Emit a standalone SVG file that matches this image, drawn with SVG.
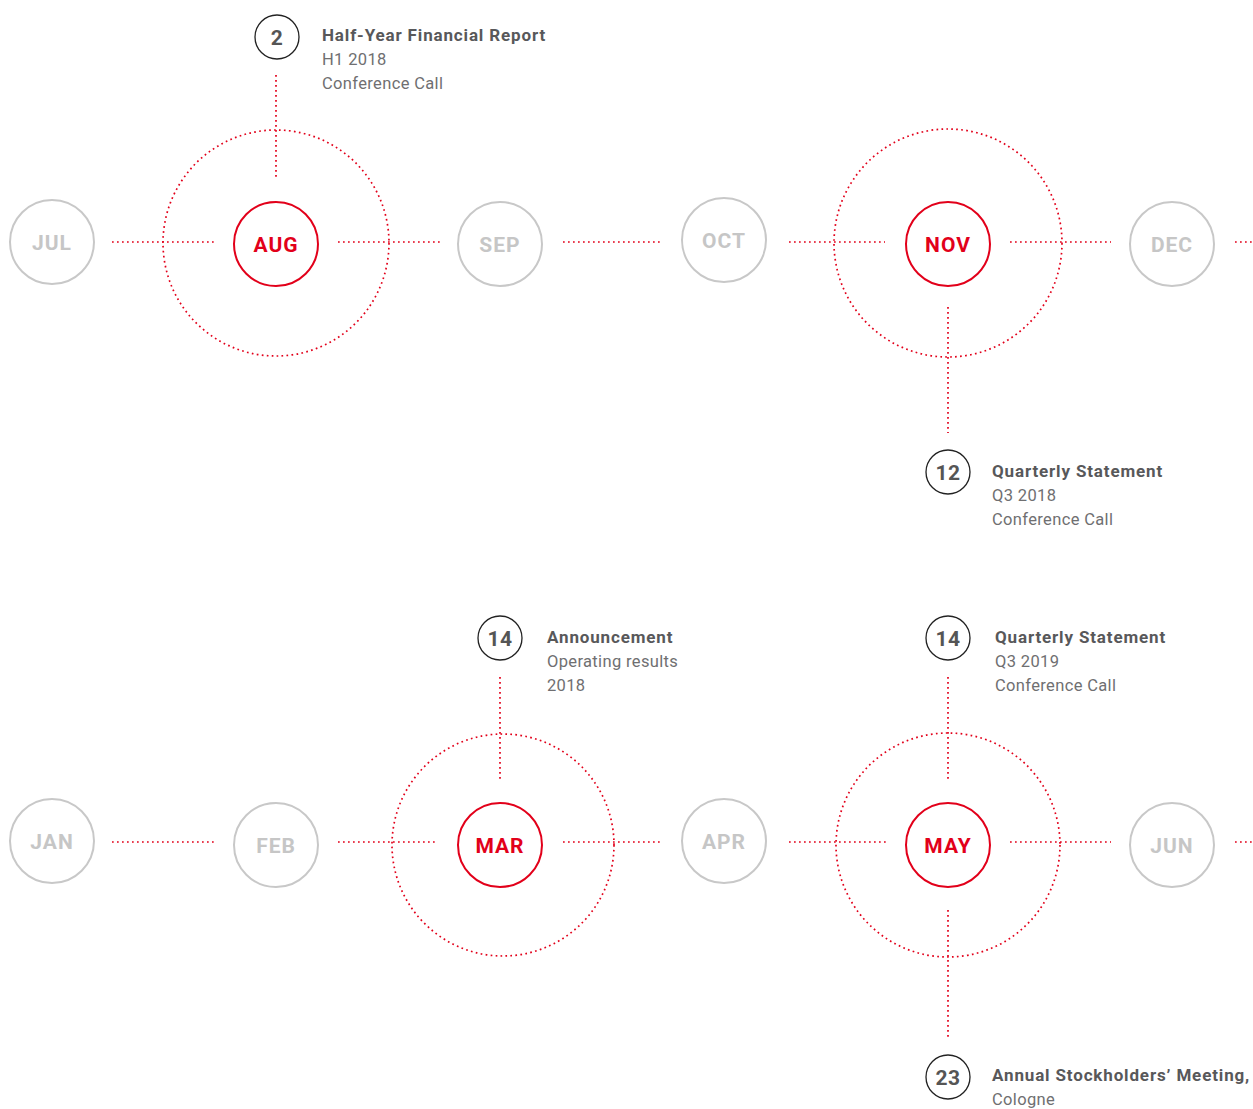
<svg xmlns="http://www.w3.org/2000/svg" width="1253" height="1109" viewBox="0 0 1253 1109">
<style>
.bg{fill:#fff}
.dot{stroke:#e2001a;stroke-width:1.7;stroke-dasharray:1.7 3.3;fill:none}
.m{fill:#fff;stroke:#c8c8c8;stroke-width:2}
.ma{fill:#fff;stroke:#e2001a;stroke-width:2}
.mt{font-family:Roboto,"Liberation Sans",sans-serif;font-weight:700;font-size:21px;letter-spacing:1px;fill:#c6c6c6;text-anchor:middle}
.mta{font-family:Roboto,"Liberation Sans",sans-serif;font-weight:700;font-size:21px;letter-spacing:1px;fill:#e2001a;text-anchor:middle}
.n{fill:#fff;stroke:#222;stroke-width:1.3}
.nt{font-family:Roboto,"Liberation Sans",sans-serif;font-weight:700;font-size:21px;letter-spacing:0.5px;fill:#555;text-anchor:middle}
.h{font-family:Roboto,"Liberation Sans",sans-serif;font-weight:700;font-size:17px;letter-spacing:0.85px;fill:#58585a}
.t{font-family:Roboto,"Liberation Sans",sans-serif;font-weight:400;font-size:16.5px;letter-spacing:0.35px;fill:#6f6f71}
</style>
<rect class="bg" x="0" y="0" width="1253" height="1109"/>
<g id="connectors">
<line class="dot" x1="112" y1="242" x2="215" y2="242"/>
<line class="dot" x1="338" y1="242" x2="440" y2="242"/>
<line class="dot" x1="563" y1="242" x2="660" y2="242"/>
<line class="dot" x1="789" y1="242" x2="885" y2="242"/>
<line class="dot" x1="1010" y1="242" x2="1111" y2="242"/>
<line class="dot" x1="1235" y1="242" x2="1253" y2="242"/>
<circle class="dot" cx="276" cy="243" r="113"/>
<circle class="dot" cx="948" cy="243" r="114"/>
<line class="dot" x1="276" y1="75" x2="276" y2="178"/>
<line class="dot" x1="948" y1="307" x2="948" y2="433"/>
<line class="dot" x1="112" y1="842" x2="215" y2="842"/>
<line class="dot" x1="338" y1="842" x2="435" y2="842"/>
<line class="dot" x1="563" y1="842" x2="660" y2="842"/>
<line class="dot" x1="789" y1="842" x2="887" y2="842"/>
<line class="dot" x1="1010" y1="842" x2="1111" y2="842"/>
<line class="dot" x1="1235" y1="842" x2="1253" y2="842"/>
<circle class="dot" cx="503" cy="845" r="111"/>
<circle class="dot" cx="948" cy="845" r="112"/>
<line class="dot" x1="500" y1="677" x2="500" y2="780"/>
<line class="dot" x1="948" y1="677" x2="948" y2="780"/>
<line class="dot" x1="948" y1="910" x2="948" y2="1037"/>
</g>
<g id="jul"><circle class="m" cx="52" cy="242" r="42"/><text class="mt" x="52" y="250">JUL</text></g>
<g id="aug"><circle class="ma" cx="276" cy="244" r="42"/><text class="mta" x="276" y="252">AUG</text></g>
<g id="sep"><circle class="m" cx="500" cy="244" r="42"/><text class="mt" x="500" y="252">SEP</text></g>
<g id="oct"><circle class="m" cx="724" cy="240" r="42"/><text class="mt" x="724" y="248">OCT</text></g>
<g id="nov"><circle class="ma" cx="948" cy="244" r="42"/><text class="mta" x="948" y="252">NOV</text></g>
<g id="dec"><circle class="m" cx="1172" cy="244" r="42"/><text class="mt" x="1172" y="252">DEC</text></g>
<g id="jan"><circle class="m" cx="52" cy="841" r="42"/><text class="mt" x="52" y="849">JAN</text></g>
<g id="feb"><circle class="m" cx="276" cy="845" r="42"/><text class="mt" x="276" y="853">FEB</text></g>
<g id="mar"><circle class="ma" cx="500" cy="845" r="42"/><text class="mta" x="500" y="853">MAR</text></g>
<g id="apr"><circle class="m" cx="724" cy="841" r="42"/><text class="mt" x="724" y="849">APR</text></g>
<g id="may"><circle class="ma" cx="948" cy="845" r="42"/><text class="mta" x="948" y="853">MAY</text></g>
<g id="jun"><circle class="m" cx="1172" cy="845" r="42"/><text class="mt" x="1172" y="853">JUN</text></g>
<g id="ev-aug"><circle class="n" cx="277" cy="37" r="22"/><text class="nt" x="277" y="45">2</text>
<text class="h" x="322" y="41">Half-Year Financial Report</text><text class="t" x="322" y="65">H1 2018</text><text class="t" x="322" y="89">Conference Call</text></g>
<g id="ev-nov"><circle class="n" cx="948" cy="472" r="22"/><text class="nt" x="948" y="480">12</text>
<text class="h" x="992" y="477">Quarterly Statement</text><text class="t" x="992" y="501">Q3 2018</text><text class="t" x="992" y="525">Conference Call</text></g>
<g id="ev-mar"><circle class="n" cx="500" cy="638" r="22"/><text class="nt" x="500" y="646">14</text>
<text class="h" x="547" y="643">Announcement</text><text class="t" x="547" y="667">Operating results</text><text class="t" x="547" y="691">2018</text></g>
<g id="ev-may"><circle class="n" cx="948" cy="638" r="22"/><text class="nt" x="948" y="646">14</text>
<text class="h" x="995" y="643">Quarterly Statement</text><text class="t" x="995" y="667">Q3 2019</text><text class="t" x="995" y="691">Conference Call</text></g>
<g id="ev-may2"><circle class="n" cx="948" cy="1077" r="22"/><text class="nt" x="948" y="1085">23</text>
<text class="h" x="992" y="1081">Annual Stockholders’ Meeting,</text><text class="t" x="992" y="1105">Cologne</text></g>
</svg>
